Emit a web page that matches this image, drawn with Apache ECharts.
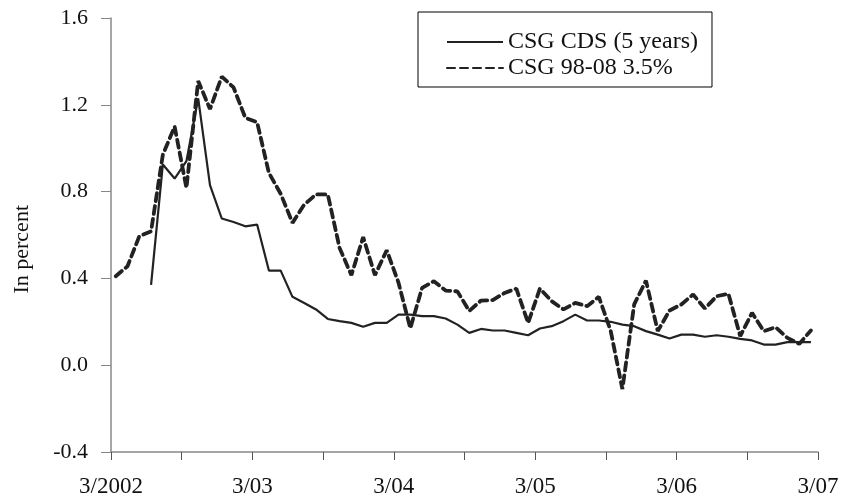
<!DOCTYPE html>
<html>
<head>
<meta charset="utf-8">
<script src="https://cdn.jsdelivr.net/npm/echarts@6/dist/echarts.min.js"></script>
<style>html,body{margin:0;padding:0;background:#fff}#c{width:845px;height:502px}</style>
</head>
<body>
<div id="c"></div>
<script>
// months since 3/2002 (observations are mid-month)
const startOffset = 0.4;
const cdsValues = [null, null, null, 0.37, 0.925, 0.86, 0.94, 1.23, 0.83, 0.676,
  0.66, 0.64, 0.648, 0.436, 0.436, 0.315, 0.287, 0.257, 0.213, 0.203,
  0.195, 0.177, 0.195, 0.195, 0.233, 0.233, 0.226, 0.226, 0.215, 0.187,
  0.149, 0.167, 0.16, 0.16, 0.149, 0.138, 0.169, 0.18, 0.203, 0.233,
  0.206, 0.206, 0.2, 0.187, 0.18, 0.157, 0.141, 0.123, 0.141, 0.141,
  0.131, 0.138, 0.131, 0.121, 0.114, 0.095, 0.095, 0.106, 0.106, 0.106];
const bondValues = [0.41, 0.456, 0.594, 0.617, 0.97, 1.10, 0.817, 1.31, 1.18, 1.33,
  1.28, 1.14, 1.12, 0.886, 0.79, 0.656, 0.74, 0.787, 0.787, 0.54,
  0.415, 0.59, 0.415, 0.53, 0.38, 0.17, 0.356, 0.387, 0.344, 0.34,
  0.25, 0.298, 0.30, 0.333, 0.353, 0.195, 0.353, 0.295, 0.257, 0.287,
  0.272, 0.315, 0.16, -0.11, 0.28, 0.39, 0.157, 0.252, 0.28, 0.326,
  0.261, 0.318, 0.329, 0.134, 0.241, 0.157, 0.175, 0.126, 0.098, 0.16];
const xTickLabels = ['3/2002', '', '3/03', '', '3/04', '', '3/05', '', '3/06', '', '3/07'];
const seriesNames = ['CSG CDS (5 years)', 'CSG 98-08 3.5%'];

const font = 'Liberation Serif';
const toXY = arr => arr.map((v, i) => [startOffset + i, v]);

const chart = echarts.init(document.getElementById('c'), null, {renderer: 'canvas'});
chart.setOption({
  animation: false,
  backgroundColor: '#fff',
  textStyle: {fontFamily: font},
  grid: {left: 111, right: 27, top: 18, bottom: 50},
  legend: {
    orient: 'vertical',
    left: 418, top: 12,
    width: 294,
    padding: [18, 14, 7, 28],
    itemGap: 2,
    itemWidth: 56, itemHeight: 14,
    borderColor: '#000', borderWidth: 1,
    itemStyle: {opacity: 0},
    textStyle: {fontFamily: font, fontSize: 24, color: '#111'},
    data: seriesNames
  },
  xAxis: {
    type: 'value', min: 0, max: 60, interval: 6,
    axisLine: {onZero: false, lineStyle: {color: '#888', width: 1.5}},
    axisTick: {show: true, length: 8, lineStyle: {color: '#555'}},
    splitLine: {show: false},
    axisLabel: {
      margin: 23, fontFamily: font, fontSize: 23, color: '#111',
      formatter: v => xTickLabels[Math.round(v / 6)] || ''
    }
  },
  yAxis: {
    type: 'value', min: -0.4, max: 1.6, interval: 0.4,
    axisLine: {show: true, lineStyle: {color: '#888', width: 1.5}},
    axisTick: {show: true, length: 10, inside: false, lineStyle: {color: '#888'}},
    splitLine: {show: false},
    axisLabel: {
      margin: 23, fontFamily: font, fontSize: 22, color: '#111',
      formatter: v => v.toFixed(1)
    }
  },
  graphic: [{
    type: 'text', left: 11, top: 205, rotation: Math.PI / 2,
    style: {text: 'In percent', fontFamily: font, fontSize: 22, fill: '#111'}
  }],
  series: [{
    name: seriesNames[0], type: 'line', data: toXY(cdsValues),
    symbol: 'none', connectNulls: false,
    lineStyle: {color: '#222', width: 2.2, type: 'solid'},
    itemStyle: {color: '#222'}
  }, {
    name: seriesNames[1], type: 'line', data: toXY(bondValues),
    symbol: 'none',
    lineStyle: {color: '#222', width: 3.8, type: [8, 5], cap: 'round'},
    itemStyle: {color: '#222'}
  }]
});
</script>
</body>
</html>
